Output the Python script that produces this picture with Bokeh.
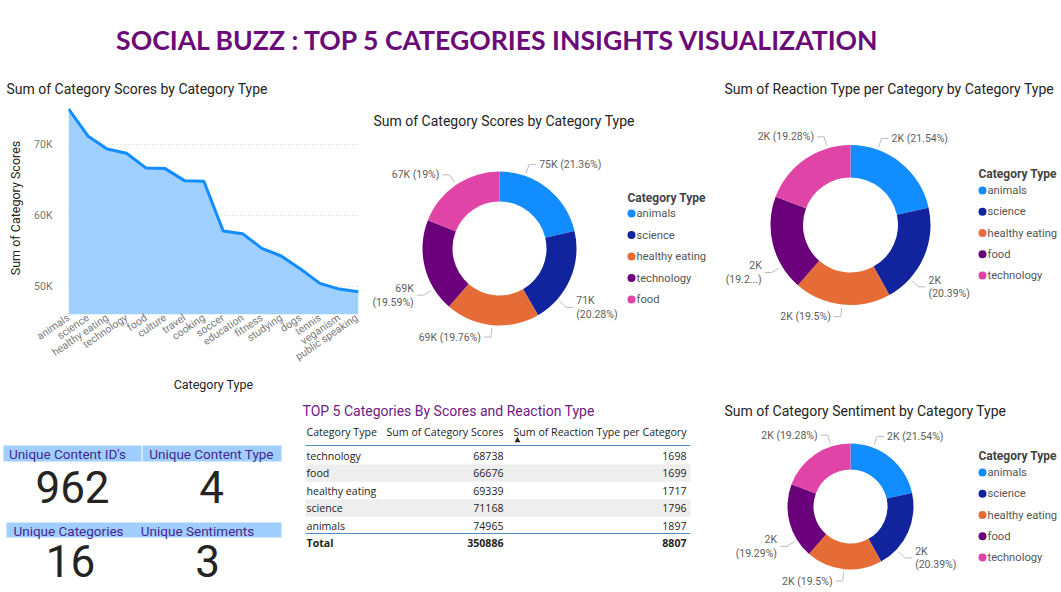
import math
from bokeh.plotting import figure
from bokeh.layouts import column, row
from bokeh.models import Range1d, FixedTicker, ColumnDataSource
from bokeh.core.properties import value
from bokeh.embed import file_html
from bokeh.resources import INLINE

# ---------------- data ----------------
area_categories = ["animals", "science", "healthy eating", "technology", "food", "culture",
                   "travel", "cooking", "soccer", "education", "fitness", "studying", "dogs",
                   "tennis", "veganism", "public speaking"]
area_scores = [74965, 71168, 69339, 68738, 66676, 66580, 64890, 64800, 57820, 57450,
               55390, 54310, 52480, 50470, 49670, 49300]
y_ticks = [50000, 60000, 70000]
y_tick_labels = ["50K", "60K", "70K"]

table_categories = ["technology", "food", "healthy eating", "science", "animals"]
table_scores = [68738, 66676, 69339, 71168, 74965]
table_reactions = [1698, 1699, 1717, 1796, 1897]
table_headers = ["Category Type", "Sum of Category Scores", "Sum of Reaction Type per Category"]

score_cats = ["animals", "science", "healthy eating", "technology", "food"]
score_vals = [74965, 71168, 69339, 68738, 66676]
reaction_cats = ["animals", "science", "healthy eating", "food", "technology"]
reaction_vals = [1897, 1796, 1717, 1699, 1698]
sentiment_cats = ["animals", "science", "healthy eating", "food", "technology"]
sentiment_vals = [1897, 1796, 1717, 1699, 1698]

kpi_labels = ["Unique Content ID's", "Unique Content Type", "Unique Categories", "Unique Sentiments"]
kpi_values = [962, 4, 16, 3]

palette = ["#118DFF", "#12239E", "#E66C37", "#6B007B", "#E044A7"]

TXT = "#252423"
SEGOE = "Open Sans"
DIN = "Roboto"


def blank(w, h):
    p = figure(width=w, height=h, x_range=Range1d(0, w), y_range=Range1d(0, h),
               toolbar_location=None, output_backend="svg", min_border=0,
               x_axis_location=None, y_axis_location=None)
    p.grid.visible = False
    p.outline_line_color = None
    p.background_fill_color = "white"
    p.border_fill_color = "white"
    return p


def txt(p, x, y, s, size, color=TXT, font=SEGOE, align="left", baseline="middle", style="normal"):
    p.text(x=[x], y=[y], text=[s], text_font=value(font), text_font_size=f"{size}px",
           text_color=color, text_align=align, text_baseline=baseline, text_font_style=style,
           text_line_height=1.05)


def donut(p, H, cx, cy_top, r_in, r_out, cats, vals, leg_x, leg_title_y, leg_y0, leg_dy,
          nudge_deg, trunc=()):
    cy = H - cy_top
    total = sum(vals)
    starts, ends = [], []
    cum = 0.0
    lxs, lys = [], []
    for i, v in enumerate(vals):
        f = v / total
        starts.append(math.pi / 2 - 2 * math.pi * cum)
        ends.append(math.pi / 2 - 2 * math.pi * (cum + f))
        mid = 2 * math.pi * (cum + f / 2)
        cum += f
        th = mid + math.radians(nudge_deg[i])
        sx, sy = math.sin(th), math.cos(th)
        x0, y0 = cx + (r_out + 3) * sx, cy + (r_out + 3) * sy
        x1, y1 = cx + (r_out + 12) * sx, cy + (r_out + 12) * sy
        side = 1 if sx >= 0 else -1
        x2 = x1 + side * 7
        lxs.append([x0, x1, x2])
        lys.append([y0, y1, y1])
        pct = ("%.2f" % (100 * f)).rstrip("0").rstrip(".") + "%"
        if i in trunc:
            pct = pct[:4] + "..."
        k = f"{round(v / 1000)}K"
        label = f"{k}\n({pct})" if abs(math.sin(mid)) > 0.9 else f"{k} ({pct})"
        txt(p, x2 + side * 3, y1, label, 10.5, color="#605E5C", font=DIN,
            align="left" if side > 0 else "right")
    src = ColumnDataSource(dict(start=starts, end=ends, color=palette[:len(vals)]))
    p.annular_wedge(x=cx, y=cy, inner_radius=r_in, outer_radius=r_out, start_angle="start",
                    end_angle="end", direction="clock", fill_color="color", line_color=None,
                    source=src)
    p.multi_line(xs=lxs, ys=lys, line_color="#BDBDBD", line_width=1)
    # legend
    txt(p, leg_x - 4, H - leg_title_y, "Category Type", 12, color="#444444", font=DIN, style="bold")
    ly = [H - (leg_y0 + i * leg_dy) for i in range(len(cats))]
    p.scatter(x=[leg_x] * len(cats), y=ly, size=8, marker="circle",
              fill_color=palette[:len(cats)], line_color=None)
    for i, c in enumerate(cats):
        txt(p, leg_x + 5, ly[i], c, 11.2, color="#555555", font=DIN)


# ---------------- main title ----------------
pt = blank(1061, 70)
txt(pt, 498, 31, "SOCIAL BUZZ : TOP 5 CATEGORIES INSIGHTS VISUALIZATION", 26.6,
    color="#6A0B78", font="Lato", align="center", style="bold")

# ---------------- area chart ----------------
xs = list(range(len(area_categories)))
pa = figure(width=360, height=325, x_range=Range1d(0, len(xs) - 1), y_range=Range1d(46100, 76000),
            toolbar_location=None, output_backend="svg",
            min_border_left=68, min_border_right=2, min_border_top=31, min_border_bottom=75)
pa.outline_line_color = None
pa.background_fill_color = "white"
pa.border_fill_color = "white"
pa.title.text = "Sum of Category Scores by Category Type"
pa.title.text_font = DIN
pa.title.text_font_size = "14px"
pa.title.text_font_style = "normal"
pa.title.text_color = TXT
pa.title.align = "left"
pa.title.offset = -62
pa.title.standoff = 10
pa.varea(x=xs, y1=[pa.y_range.start] * len(xs), y2=area_scores, fill_color="#A0D0FF")
pa.line(x=xs, y=area_scores, line_color="#118DFF", line_width=3)
pa.xgrid.visible = False
pa.yaxis.ticker = FixedTicker(ticks=y_ticks)
pa.yaxis.major_label_overrides = {t: l for t, l in zip(y_ticks, y_tick_labels)}
pa.xaxis.ticker = FixedTicker(ticks=xs)
pa.xaxis.major_label_overrides = {i: c for i, c in enumerate(area_categories)}
pa.xaxis.major_label_orientation = 0.6
pa.ygrid.grid_line_color = "#C8C8C8"
pa.ygrid.grid_line_dash = "1 3"
for ax in (pa.xaxis[0], pa.yaxis[0]):
    ax.axis_line_color = None
    ax.major_tick_line_color = None
    ax.minor_tick_line_color = None
    ax.major_tick_out = 0
    ax.minor_tick_out = 0
    ax.major_tick_in = 0
    ax.minor_tick_in = 0
    ax.major_label_text_color = "#777777"
    ax.major_label_text_font = DIN
    ax.major_label_text_font_size = "10.5px"
    ax.axis_label_text_font = DIN
    ax.axis_label_text_font_size = "12.5px"
    ax.axis_label_text_font_style = "normal"
    ax.axis_label_text_color = TXT
pa.xaxis.axis_label = "Category Type"
pa.yaxis.axis_label = "Sum of Category Scores"
pa.yaxis.major_label_standoff = 16
pa.yaxis.axis_label_standoff = 8
pa.xaxis.major_label_standoff = 2
pa.xaxis.axis_label_standoff = 6

# ---------------- donut 1 ----------------
d1 = blank(360, 325)
txt(d1, 13, 325 - 50, "Sum of Category Scores by Category Type", 14, font=DIN)
donut(d1, 325, 139, 178, 47, 77, score_cats, score_vals, 271, 127, 143, 21.5,
      nudge_deg=[-19, 18, 0, -18, 0])

# ---------------- donut 2 ----------------
d2 = blank(341, 325)
txt(d2, 4, 325 - 18, "Sum of Reaction Type per Category by Category Type", 14, font=DIN)
donut(d2, 325, 130, 154.5, 47.5, 80, reaction_cats, reaction_vals, 262, 103, 120, 21.25,
      nudge_deg=[-19, 18, 0, -17, 18], trunc={3})

# ---------------- donut 3 ----------------
d3 = blank(341, 197)
txt(d3, 4, 197 - 15, "Sum of Category Sentiment by Category Type", 14, font=DIN)
donut(d3, 197, 130, 111, 37, 63, sentiment_cats, sentiment_vals, 262, 60, 77, 21.25,
      nudge_deg=[-18, 19, 0, -18, 17])

# ---------------- KPI cards ----------------
pk = blank(300, 197)
H = 197
pk.quad(left=[3, 142], right=[141, 281], bottom=[H - 66, H - 66], top=[H - 50, H - 50],
        fill_color="#A0CFFF", line_color=None)
pk.quad(left=[6], right=[281], bottom=[H - 142], top=[H - 127], fill_color="#A0CFFF", line_color=None)
kpi_label_pos = [(67, 58), (211, 58), (68, 135), (197, 135)]
kpi_value_pos = [(72, 91), (211, 91), (70, 165), (207, 165)]
for (lx, ly), lab in zip(kpi_label_pos, kpi_labels):
    txt(pk, lx, H - ly, lab, 13.5, color="#47278F", font=DIN, align="center")
for (vx, vy), v in zip(kpi_value_pos, kpi_values):
    txt(pk, vx, H - vy, str(v), 44, color=TXT, font=DIN, align="center")

# ---------------- table ----------------
tb = blank(420, 197)
TS = 10.6
txt(tb, 2, H - 15, "TOP 5 Categories By Scores and Reaction Type", 14, color="#6E2082", font=DIN)
txt(tb, 6, H - 36, table_headers[0], TS, color=TXT)
txt(tb, 203, H - 36, table_headers[1], TS, color=TXT, align="right")
txt(tb, 386, H - 36, table_headers[2], TS, color=TXT, align="right")
tb.scatter(x=[217], y=[H - 45], marker="triangle", size=6, fill_color=TXT, line_color=None)
row_y = [60 + i * 17.5 for i in range(len(table_categories))]
shade_idx = [i for i in range(len(table_categories)) if i % 2 == 1]
tb.quad(left=[5] * len(shade_idx), right=[390] * len(shade_idx),
        bottom=[H - (row_y[i] + 8.8) for i in shade_idx], top=[H - (row_y[i] - 8.8) for i in shade_idx],
        fill_color="#EEEEEE", line_color=None)
tb.segment(x0=[5, 5], x1=[390, 390], y0=[H - 50, H - 138], y1=[H - 50, H - 138],
           line_color="#4F8FD0", line_width=1.2)
for i, (c, s, r) in enumerate(zip(table_categories, table_scores, table_reactions)):
    y = H - row_y[i]
    txt(tb, 6, y, c, TS)
    txt(tb, 203, y, str(s), TS, align="right")
    txt(tb, 386, y, str(r), TS, align="right")
txt(tb, 6, H - 147, "Total", TS, style="bold")
txt(tb, 203, H - 147, str(sum(table_scores)), TS, align="right", style="bold")
txt(tb, 386, H - 147, str(sum(table_reactions)), TS, align="right", style="bold")

layout = column(
    pt,
    row(column(pa), column(d1), column(d2)),
    row(pk, tb, d3),
)

open("out.html", "w").write(file_html(layout, INLINE))
